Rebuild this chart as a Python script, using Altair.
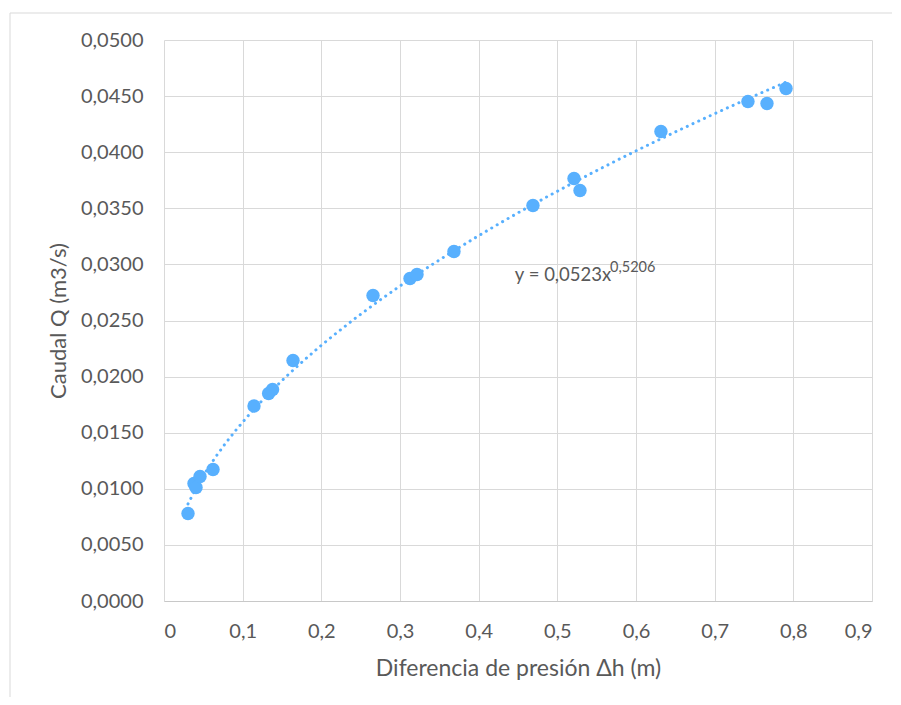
import altair as alt
import pandas as pd

# Data
dh_m = [0.0305, 0.0381, 0.0407, 0.0458, 0.0623, 0.1144, 0.1330, 0.1380, 0.1640,
        0.2657, 0.3127, 0.3216, 0.3686, 0.4690, 0.5212, 0.5288, 0.6317, 0.7423,
        0.7665, 0.7907]
q_m3s = [0.00780, 0.01047, 0.01012, 0.01110, 0.01172, 0.01738, 0.01850, 0.01885,
         0.02144, 0.02723, 0.02874, 0.02910, 0.03115, 0.03525, 0.03766, 0.03659,
         0.04184, 0.04452, 0.04434, 0.04568]

x_ticks = [0, 0.1, 0.2, 0.3, 0.4, 0.5, 0.6, 0.7, 0.8, 0.9]
y_ticks = [0, 0.005, 0.01, 0.015, 0.02, 0.025, 0.03, 0.035, 0.04, 0.045, 0.05]

eq_main = ["y = 0,0523x"]
eq_exp = ["0,5206"]
eq_pos = [0.446, 0.02848]
exp_pos = [0.567, 0.02929]

x_title = "Diferencia de presión Δh (m)"
y_title = "Caudal Q (m3/s)"

FONT = "Lato"
TXT = "#595959"
PT = "#58B0FE"

df = pd.DataFrame({"x": dh_m, "y": q_m3s})

xs = alt.Scale(domain=[0, 0.9], nice=False, zero=False)
ys = alt.Scale(domain=[0, 0.05], nice=False, zero=False)

x_axis = alt.Axis(values=x_ticks, title=x_title,
                  labelExpr="replace(format(datum.value, '.1~f'), '.', ',')",
                  grid=True, gridColor="#d9d9d9", domainColor="#c8c8c8",
                  ticks=False, tickSize=0, labelPadding=20,
                  labelFont=FONT, labelFontSize=20, labelColor=TXT,
                  titleFont=FONT, titleFontSize=23, titleColor=TXT,
                  titleFontWeight="normal", titleBaseline="middle", titleY=67)
y_axis = alt.Axis(values=y_ticks, title=y_title,
                  labelExpr="replace(format(datum.value, '.4f'), '.', ',')",
                  grid=True, gridColor="#d9d9d9", domain=False,
                  ticks=False, tickSize=0, labelPadding=21,
                  labelFont=FONT, labelFontSize=20, labelColor=TXT,
                  titleFont=FONT, titleFontSize=22, titleColor=TXT,
                  titleFontWeight="normal", titleAngle=-90,
                  titleBaseline="middle", titleX=-106)

base = alt.Chart(df)

pts = base.mark_circle(size=180, color=PT, opacity=1).encode(
    x=alt.X("x:Q", scale=xs, axis=x_axis),
    y=alt.Y("y:Q", scale=ys, axis=y_axis),
)

trend = base.transform_regression("x", "y", method="pow").mark_line(
    color=PT, strokeWidth=3, strokeDash=[0.1, 6.2], strokeCap="round"
).encode(x=alt.X("x:Q", scale=xs), y=alt.Y("y:Q", scale=ys))

eq1 = alt.Chart(pd.DataFrame({"x": [eq_pos[0]], "y": [eq_pos[1]], "t": eq_main})).mark_text(
    align="left", baseline="alphabetic", font=FONT, fontSize=18.5, color=TXT
).encode(x=alt.X("x:Q", scale=xs), y=alt.Y("y:Q", scale=ys), text="t:N")

eq2 = alt.Chart(pd.DataFrame({"x": [exp_pos[0]], "y": [exp_pos[1]], "t": eq_exp})).mark_text(
    align="left", baseline="alphabetic", font=FONT, fontSize=14.5, color=TXT
).encode(x=alt.X("x:Q", scale=xs), y=alt.Y("y:Q", scale=ys), text="t:N")

one = pd.DataFrame({"a": [0]})
border_left = alt.Chart(one).mark_rule(color="#d9d9d9", strokeWidth=1).encode(
    x=alt.value(-154), y=alt.value(-27), y2=alt.value(700))
border_top = alt.Chart(one).mark_rule(color="#d9d9d9", strokeWidth=1).encode(
    x=alt.value(-154), x2=alt.value(760), y=alt.value(-27))

chart = alt.layer(border_left, border_top, trend, pts, eq1, eq2).properties(
    width=708, height=561,
    autosize=alt.AutoSizeParams(type="none"),
    padding={"left": 156, "top": 32, "right": 20, "bottom": 96},
    background="white",
).configure_view(stroke=None)

chart.save("out.html", embed_options={"renderer": "svg", "actions": False})
